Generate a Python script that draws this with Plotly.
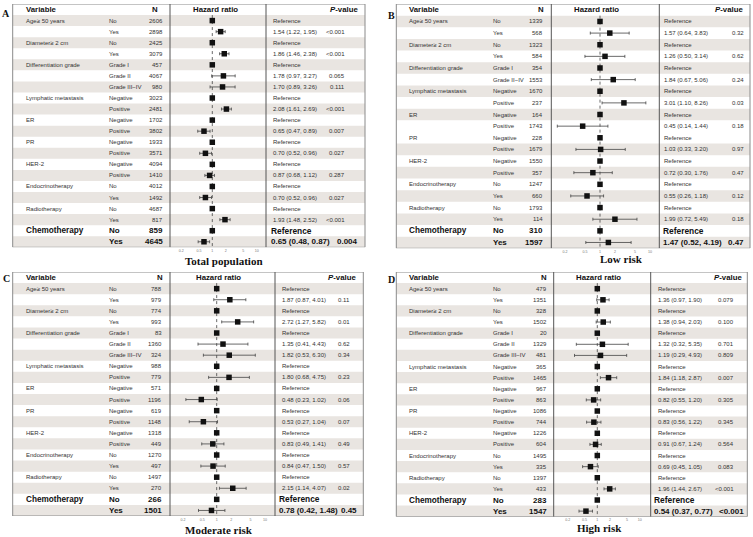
import plotly.graph_objects as go

W, H = 753, 537

# ---------------- data ----------------
VAR_A = ["Age≥ 50 years", "", "Diameter≥ 2 cm", "", "Differentiation grade", "", "", "Lymphatic metastasis", "",
         "ER", "", "PR", "", "HER-2", "", "Endocrinotherapy", "", "Radiotherapy", "", "Chemotherapy", ""]
SUB_A = ["No", "Yes", "No", "Yes", "Grade I", "Grade II", "Grade III−IV", "Negative", "Positive", "Negative", "Positive",
         "Negative", "Positive", "Negative", "Positive", "No", "Yes", "No", "Yes", "No", "Yes"]
VAR_B = ["Age≥ 50 years", "", "Diameter≥ 2 cm", "", "Differentiation grade", "", "Lymphatic metastasis", "",
         "ER", "", "PR", "", "HER-2", "", "Endocrinotherapy", "", "Radiotherapy", "", "Chemotherapy", ""]
SUB_B = ["No", "Yes", "No", "Yes", "Grade I", "Grade II−IV", "Negative", "Positive", "Negative", "Positive",
         "Negative", "Positive", "Negative", "Positive", "No", "Yes", "No", "Yes", "No", "Yes"]

# Panel A: Total population
N_A = [2606, 2898, 2425, 3079, 457, 4067, 980, 3023, 2481, 1702, 3802, 1933, 3571, 4094, 1410, 4012, 1492, 4687, 817, 859, 4645]
HR_A = [None, 1.54, None, 1.86, None, 1.78, 1.70, None, 2.08, None, 0.65, None, 0.70, None, 0.87, None, 0.70, None, 1.93, None, 0.65]
LO_A = [None, 1.22, None, 1.46, None, 0.97, 0.89, None, 1.61, None, 0.47, None, 0.52, None, 0.68, None, 0.52, None, 1.48, None, 0.48]
HI_A = [None, 1.95, None, 2.38, None, 3.27, 3.26, None, 2.69, None, 0.89, None, 0.96, None, 1.12, None, 0.96, None, 2.52, None, 0.87]
P_A = ["", "<0.001", "", "<0.001", "", "0.065", "0.111", "", "<0.001", "", "0.007", "", "0.027", "", "0.287", "", "0.027", "", "<0.001", "", "0.004"]

# Panel B: Low risk
N_B = [1339, 568, 1323, 584, 354, 1553, 1670, 237, 164, 1743, 228, 1679, 1550, 357, 1247, 660, 1793, 114, 310, 1597]
HR_B = [None, 1.57, None, 1.26, None, 1.84, None, 3.01, None, 0.45, None, 1.03, None, 0.72, None, 0.55, None, 1.99, None, 1.47]
LO_B = [None, 0.64, None, 0.50, None, 0.67, None, 1.10, None, 0.14, None, 0.33, None, 0.30, None, 0.26, None, 0.72, None, 0.52]
HI_B = [None, 3.83, None, 3.14, None, 5.06, None, 8.26, None, 1.44, None, 3.20, None, 1.76, None, 1.18, None, 5.49, None, 4.19]
P_B = ["", "0.32", "", "0.62", "", "0.24", "", "0.03", "", "0.18", "", "0.97", "", "0.47", "", "0.12", "", "0.18", "", "0.47"]

# Panel C: Moderate risk
N_C = [788, 979, 774, 993, 83, 1360, 324, 988, 779, 571, 1196, 619, 1148, 1318, 449, 1270, 497, 1497, 270, 266, 1501]
HR_C = [None, 1.87, None, 2.72, None, 1.35, 1.82, None, 1.80, None, 0.48, None, 0.53, None, 0.83, None, 0.84, None, 2.15, None, 0.78]
LO_C = [None, 0.87, None, 1.27, None, 0.41, 0.53, None, 0.68, None, 0.23, None, 0.27, None, 0.49, None, 0.47, None, 1.14, None, 0.42]
HI_C = [None, 4.01, None, 5.82, None, 4.43, 6.30, None, 4.75, None, 1.02, None, 1.04, None, 1.41, None, 1.50, None, 4.07, None, 1.48]
P_C = ["", "0.11", "", "0.01", "", "0.62", "0.34", "", "0.23", "", "0.06", "", "0.07", "", "0.49", "", "0.57", "", "0.02", "", "0.45"]

# Panel D: High risk
N_D = [479, 1351, 328, 1502, 20, 1329, 481, 365, 1465, 967, 863, 1086, 744, 1226, 604, 1495, 335, 1397, 433, 283, 1547]
HR_D = [None, 1.36, None, 1.38, None, 1.32, 1.19, None, 1.84, None, 0.82, None, 0.83, None, 0.91, None, 0.69, None, 1.96, None, 0.54]
LO_D = [None, 0.97, None, 0.94, None, 0.32, 0.29, None, 1.18, None, 0.55, None, 0.56, None, 0.67, None, 0.45, None, 1.44, None, 0.37]
HI_D = [None, 1.90, None, 2.03, None, 5.35, 4.93, None, 2.87, None, 1.20, None, 1.22, None, 1.24, None, 1.05, None, 2.67, None, 0.77]
P_D = ["", "0.079", "", "0.100", "", "0.701", "0.809", "", "0.007", "", "0.305", "", "0.345", "", "0.564", "", "0.083", "", "<0.001", "", "<0.001"]

TICK_VALS = [0.2, 0.5, 1, 2, 5, 10]
TICK_TEXT = ["0.2", "0.5", "1", "2", "5", "10"]
TITLES = ["Total population", "Low risk", "Moderate risk", "High risk"]
LETTERS = ["A", "B", "C", "D"]

# ---------------- layout geometry (pixels) ----------------
GEOM = [
    dict(left=12.7, right=365, sep1=170, sep2=266, top=4, bottom=247.3, var_x=24, sub_x=106.7, n_r=165, n_hc=154.5,
         hr_hc=215, hr_x=270.7, hr_xb=269.3, p_r=346.7, pb_r=360, ph_r=360, x1=212.3, ppd=44.4,
         title=(224, 261), letter=(6, 13)),
    dict(left=396.3, right=750, sep1=551.3, sep2=659.3, top=4, bottom=248.3, var_x=407, sub_x=490.7, n_r=544.7, n_hc=541,
         hr_hc=596, hr_x=661.7, hr_xb=660.5, p_r=745.7, pb_r=745.5, ph_r=745, x1=600, ppd=50,
         title=(621, 259), letter=(391, 15)),
    dict(left=12.7, right=363.3, sep1=170, sep2=275, top=272, bottom=516, var_x=24, sub_x=107.3, n_r=164.3, n_hc=159.5,
         hr_hc=218.3, hr_x=280, hr_xb=276.7, p_r=352.3, pb_r=359, ph_r=358.3, x1=216.7, ppd=48.3,
         title=(219, 530), letter=(6, 278)),
    dict(left=396.3, right=747.3, sep1=553.7, sep2=650.7, top=272, bottom=516.7, var_x=407.3, sub_x=490.7, n_r=549, n_hc=543.5,
         hr_hc=598, hr_x=655.7, hr_xb=652, p_r=736.3, pb_r=746.3, ph_r=743.7, x1=597.3, ppd=42.4,
         title=(599, 528.3), letter=(391, 279.7)),
]

DATA = [
    (VAR_A, SUB_A, N_A, HR_A, LO_A, HI_A, P_A),
    (VAR_B, SUB_B, N_B, HR_B, LO_B, HI_B, P_B),
    (VAR_A, SUB_A, N_C, HR_C, LO_C, HI_C, P_C),
    (VAR_A, SUB_A, N_D, HR_D, LO_D, HI_D, P_D),
]

SANS = "Liberation Sans, Arial, sans-serif"
SERIF = "Liberation Serif, Times New Roman, serif"
STRIPE = "#e9e5e1"
TXT = "#333333"
FS = 6          # regular table text size
FSB = 8.0       # chemotherapy bold row size
FSH = 7.8       # header size


def fx(px):
    return px / W


def fy(py):
    return 1 - py / H


fig = go.Figure()
shapes = []
annotations = []

for k, (g, (var, sub, nn, hr, lo, hi, pv)) in enumerate(zip(GEOM, DATA), start=1):
    xname = "x" if k == 1 else f"x{k}"
    yname = "y" if k == 1 else f"y{k}"
    n = len(nn)

    # axes
    lo_log = (g["sep1"] - g["x1"]) / g["ppd"]
    hi_log = (g["sep2"] - g["x1"]) / g["ppd"]
    fig.update_layout({
        ("xaxis" if k == 1 else f"xaxis{k}"): dict(
            type="log", range=[lo_log, hi_log], domain=[fx(g["sep1"]), fx(g["sep2"])],
            anchor=yname, showgrid=False, zeroline=False, showline=False,
            tickvals=TICK_VALS, ticktext=TICK_TEXT, ticks="",
            tickfont=dict(family=SANS, size=3.6, color="#777777"), fixedrange=True),
        ("yaxis" if k == 1 else f"yaxis{k}"): dict(
            range=[n - 0.5, -1.5], domain=[fy(g["bottom"]), fy(g["top"])],
            anchor=xname, visible=False, fixedrange=True),
    })

    # stripes
    for i in range(n):
        if k == 2:
            grey = (i % 2 == 0) if i <= 9 else (i % 2 == 1)
        else:
            grey = (i % 2 == 0)
        if grey:
            shapes.append(dict(type="rect", xref="paper", yref=yname, x0=fx(g["left"]), x1=fx(g["right"]),
                               y0=i - 0.5, y1=i + 0.5, fillcolor=STRIPE, line=dict(width=0), layer="below"))

    # borders and separators
    shapes.append(dict(type="rect", xref="paper", yref=yname, x0=fx(g["left"]), x1=fx(g["right"]),
                       y0=-1.5, y1=n - 0.5, line=dict(color="#8a8a8a", width=1), fillcolor="rgba(0,0,0,0)", layer="above"))
    for sx in (g["sep1"], g["sep2"]):
        shapes.append(dict(type="line", xref="paper", yref=yname, x0=fx(sx), x1=fx(sx),
                           y0=-1.5, y1=n - 0.5, line=dict(color="#555555", width=1), layer="above"))
    # reference line at HR = 1
    shapes.append(dict(type="line", xref=xname, yref=yname, x0=1, x1=1, y0=-0.5, y1=n - 0.5,
                       line=dict(color="#444444", width=0.8, dash="dot"), layer="below"))

    # header
    hdr = [
        dict(text="<b>Variable</b>", x=fx(g["var_x"]), xanchor="left"),
        dict(text="<b>N</b>", x=fx(g["n_hc"]), xanchor="center"),
        dict(text="<b>Hazard ratio</b>", x=fx(g["hr_hc"]), xanchor="center"),
        dict(text="<b><i>P</i>-value</b>", x=fx(g["ph_r"]), xanchor="right"),
    ]
    for a in hdr:
        a.update(y=-1, xref="paper", yref=yname, yanchor="middle", showarrow=False,
                 font=dict(family=SANS, size=FSH, color="#111111"))
    annotations += hdr

    # rows
    for i in range(n):
        chemo = i >= n - 2
        size = FSB if chemo else FS
        color = "#111111" if chemo else TXT

        def add(text, x, anchor, sz=size):
            if text == "":
                return
            if chemo:
                text = f"<b>{text}</b>"
            annotations.append(dict(text=text, x=fx(x), y=i, xref="paper", yref=yname, xanchor=anchor,
                                    yanchor="middle", showarrow=False,
                                    font=dict(family=SANS, size=sz, color=color)))

        add(var[i], g["var_x"], "left", sz=(FSB + 0.2) if chemo else FS)
        add(sub[i], g["sub_x"], "left")
        add(str(nn[i]), g["n_r"], "right")
        hx = g["hr_xb"] if chemo else g["hr_x"]
        if hr[i] is None:
            add("Reference", hx, "left", sz=(FSB + 0.4) if chemo else FS)
        else:
            add(f"{hr[i]:.2f} ({lo[i]:.2f}, {hi[i]:.2f})", hx, "left")
            add(pv[i], g["pb_r"] if chemo else g["p_r"], "right")

    # markers
    ref_rows = [i for i in range(n) if hr[i] is None]
    est_rows = [i for i in range(n) if hr[i] is not None]
    fig.add_trace(go.Scatter(
        x=[1] * len(ref_rows), y=ref_rows, xaxis=xname, yaxis=yname, mode="markers",
        marker=dict(symbol="square", size=5.5, color="#111111"), showlegend=False, hoverinfo="skip", cliponaxis=False))
    fig.add_trace(go.Scatter(
        x=[hr[i] for i in est_rows], y=est_rows, xaxis=xname, yaxis=yname, mode="markers",
        marker=dict(symbol="square", size=5.5, color="#111111"),
        error_x=dict(type="data", symmetric=False,
                     array=[hi[i] - hr[i] for i in est_rows],
                     arrayminus=[hr[i] - lo[i] for i in est_rows],
                     color="#444444", thickness=0.8, width=1.5),
        showlegend=False, hoverinfo="skip", cliponaxis=False))

    # title and panel letter
    annotations.append(dict(text=f"<b>{TITLES[k - 1]}</b>", x=fx(g["title"][0]), y=fy(g["title"][1]),
                            xref="paper", yref="paper", xanchor="center", yanchor="middle", showarrow=False,
                            font=dict(family=SERIF, size=11, color="#111111")))
    annotations.append(dict(text=f"<b>{LETTERS[k - 1]}</b>", x=fx(g["letter"][0]), y=fy(g["letter"][1]),
                            xref="paper", yref="paper", xanchor="center", yanchor="middle", showarrow=False,
                            font=dict(family=SERIF, size=10, color="#111111")))

fig.update_layout(
    width=W, height=H, margin=dict(l=0, r=0, t=0, b=0),
    paper_bgcolor="white", plot_bgcolor="rgba(0,0,0,0)",
    shapes=shapes, annotations=annotations, showlegend=False,
)

fig.write_html("out.html", config={"displayModeBar": False, "staticPlot": True},
               post_script="document.body.style.margin='0px';document.body.style.overflow='hidden';")
